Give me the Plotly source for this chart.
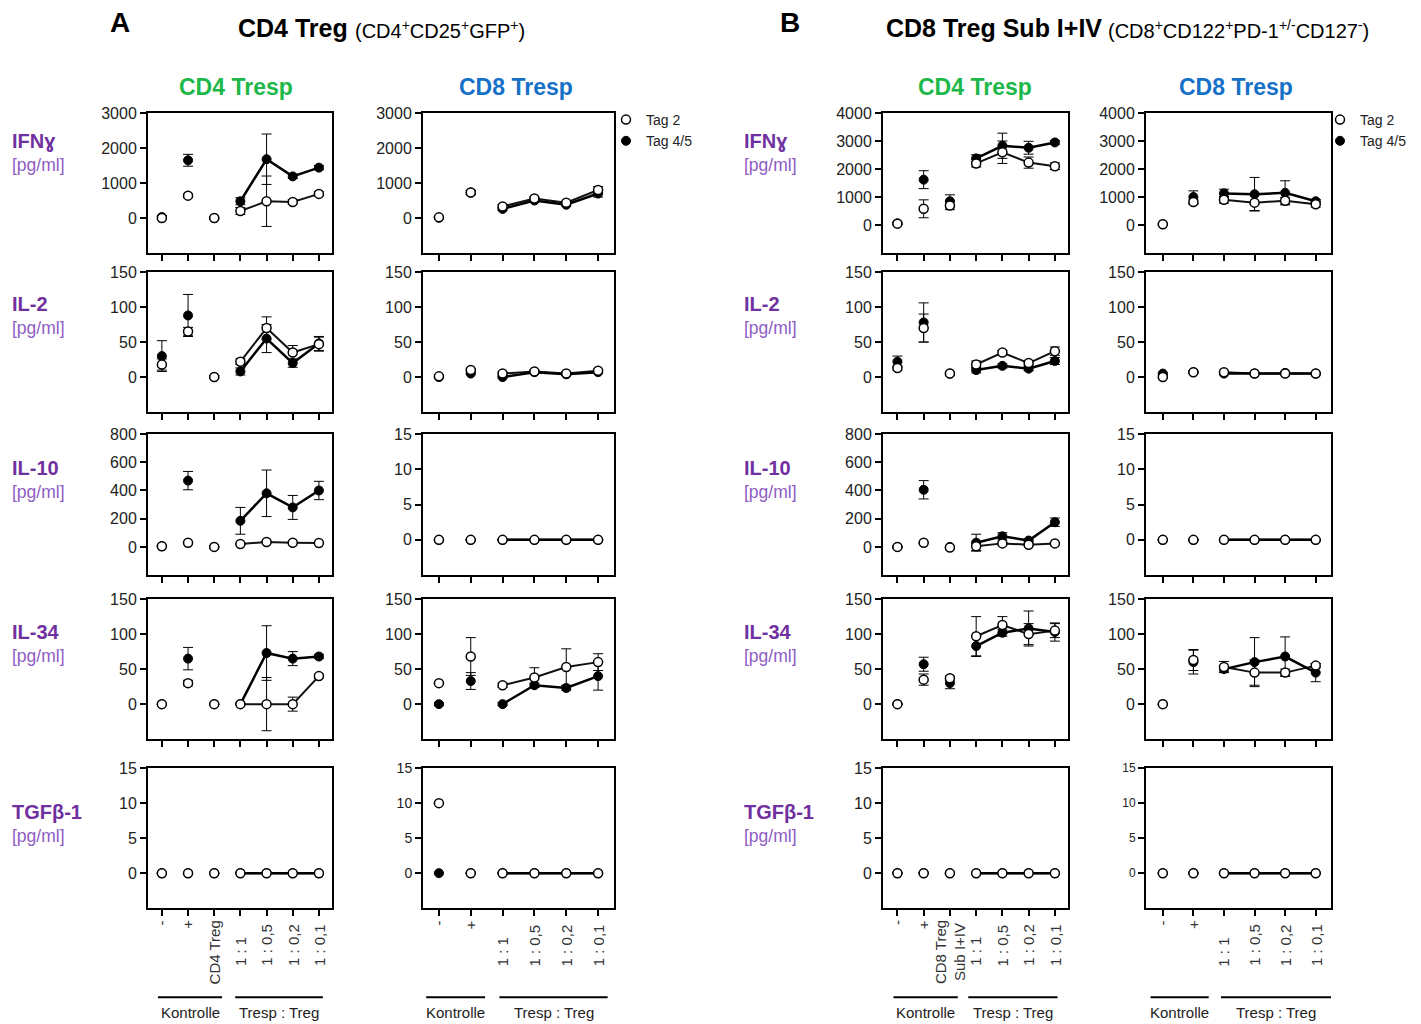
import plotly.graph_objects as go

W, H = 1421, 1024
FONT = "Liberation Sans"

# ---------------- categories ----------------
cats_A_cd4 = ["-", "+", "CD4 Treg", "1 : 1", "1 : 0,5", "1 : 0,2", "1 : 0,1"]
cats_A_cd8 = ["-", "+", "1 : 1", "1 : 0,5", "1 : 0,2", "1 : 0,1"]
cats_B_cd4 = ["-", "+", "CD8 Treg<br>Sub I+IV", "1 : 1", "1 : 0,5", "1 : 0,2", "1 : 0,1"]
cats_B_cd8 = ["-", "+", "1 : 1", "1 : 0,5", "1 : 0,2", "1 : 0,1"]

cytokines = ["IFNɣ", "IL-2", "IL-10", "IL-34", "TGFβ-1"]
unit = "[pg/ml]"
series_names = ["Tag 2", "Tag 4/5"]

# ---------------- data: A, CD4 Tresp ----------------
A4_ifng_t2 = [0, 640, 0, 200, 480, 460, 690]
A4_ifng_t2_err = [40, 50, 30, 100, 720, 60, 60]
A4_ifng_t45 = [30, 1650, 0, 480, 1680, 1190, 1440]
A4_ifng_t45_err = [30, 170, 20, 100, 720, 60, 60]

A4_il2_t2 = [18, 65, 0, 22, 70, 35, 47]
A4_il2_t2_err = [8, 6, 2, 4, 16, 10, 10]
A4_il2_t45 = [30, 88, 0, 8, 55, 20, 48]
A4_il2_t45_err = [22, 30, 2, 5, 20, 6, 10]

A4_il10_t2 = [5, 30, 0, 20, 35, 30, 28]
A4_il10_t2_err = [5, 5, 5, 5, 5, 5, 5]
A4_il10_t45 = [5, 470, 0, 185, 380, 280, 400]
A4_il10_t45_err = [5, 65, 5, 95, 165, 85, 65]

A4_il34_t2 = [0, 30, 0, 0, 0, 0, 40]
A4_il34_t2_err = [0, 4, 0, 0, 38, 10, 3]
A4_il34_t45 = [0, 65, 0, 0, 73, 65, 68]
A4_il34_t45_err = [0, 16, 0, 0, 39, 10, 3]

A4_tgf_t2 = [0, 0, 0, 0, 0, 0, 0]
A4_tgf_t2_err = [0, 0, 0, 0, 0, 0, 0]
A4_tgf_t45 = [0, 0, 0, 0, 0, 0, 0]
A4_tgf_t45_err = [0, 0, 0, 0, 0, 0, 0]

# ---------------- data: A, CD8 Tresp ----------------
A8_ifng_t2 = [20, 730, 330, 560, 440, 800]
A8_ifng_t2_err = [20, 60, 50, 40, 40, 100]
A8_ifng_t45 = [10, 730, 260, 500, 380, 700]
A8_ifng_t45_err = [10, 60, 40, 40, 40, 100]

A8_il2_t2 = [1, 10, 5, 8, 5, 9]
A8_il2_t2_err = [2, 2, 2, 2, 2, 2]
A8_il2_t45 = [0, 5, 0, 7, 4, 7]
A8_il2_t45_err = [1, 1, 1, 1, 1, 1]

A8_il10_t2 = [0, 0, 0, 0, 0, 0]
A8_il10_t2_err = [0, 0, 0, 0, 0, 0]
A8_il10_t45 = [0, 0, 0, 0, 0, 0]
A8_il10_t45_err = [0, 0, 0, 0, 0, 0]

A8_il34_t2 = [30, 68, 27, 38, 53, 60]
A8_il34_t2_err = [2, 27, 3, 14, 26, 12]
A8_il34_t45 = [0, 33, 0, 27, 23, 40]
A8_il34_t45_err = [2, 12, 2, 3, 3, 20]

A8_tgf_t2 = [10, 0, 0, 0, 0, 0]
A8_tgf_t2_err = [0, 0, 0, 0, 0, 0]
A8_tgf_t45 = [0, 0, 0, 0, 0, 0]
A8_tgf_t45_err = [0, 0, 0, 0, 0, 0]

# ---------------- data: B, CD4 Tresp ----------------
B4_ifng_t2 = [50, 580, 700, 2200, 2600, 2230, 2100]
B4_ifng_t2_err = [30, 320, 150, 130, 400, 200, 120]
B4_ifng_t45 = [60, 1620, 850, 2380, 2830, 2760, 2950]
B4_ifng_t45_err = [50, 320, 230, 130, 450, 230, 70]

B4_il2_t2 = [13, 70, 5, 18, 35, 20, 37]
B4_il2_t2_err = [3, 20, 2, 5, 3, 3, 6]
B4_il2_t45 = [22, 78, 5, 10, 16, 12, 23]
B4_il2_t45_err = [8, 28, 2, 4, 3, 3, 5]

B4_il10_t2 = [0, 30, -5, 5, 25, 15, 25]
B4_il10_t2_err = [5, 5, 5, 30, 5, 5, 5]
B4_il10_t45 = [0, 405, 0, 30, 75, 45, 175]
B4_il10_t45_err = [5, 65, 5, 60, 25, 10, 30]

B4_il34_t2 = [0, 35, 37, 97, 113, 100, 105]
B4_il34_t2_err = [0, 8, 3, 28, 12, 15, 10]
B4_il34_t45 = [0, 57, 30, 83, 102, 108, 103]
B4_il34_t45_err = [0, 10, 8, 15, 5, 25, 13]

B4_tgf_t2 = [0, 0, 0, 0, 0, 0, 0]
B4_tgf_t2_err = [0, 0, 0, 0, 0, 0, 0]
B4_tgf_t45 = [0, 0, 0, 0, 0, 0, 0]
B4_tgf_t45_err = [0, 0, 0, 0, 0, 0, 0]

# ---------------- data: B, CD8 Tresp ----------------
B8_ifng_t2 = [30, 820, 900, 800, 870, 740]
B8_ifng_t2_err = [30, 80, 120, 280, 120, 100]
B8_ifng_t45 = [30, 1000, 1130, 1100, 1150, 850]
B8_ifng_t45_err = [30, 220, 150, 600, 430, 60]

B8_il2_t2 = [0, 7, 7, 5, 5, 5]
B8_il2_t2_err = [2, 2, 1, 1, 1, 1]
B8_il2_t45 = [5, 7, 5, 5, 6, 5]
B8_il2_t45_err = [1, 1, 1, 1, 1, 1]

B8_il10_t2 = [0, 0, 0, 0, 0, 0]
B8_il10_t2_err = [0, 0, 0, 0, 0, 0]
B8_il10_t45 = [0, 0, 0, 0, 0, 0]
B8_il10_t45_err = [0, 0, 0, 0, 0, 0]

B8_il34_t2 = [0, 63, 53, 45, 45, 55]
B8_il34_t2_err = [0, 15, 8, 18, 5, 3]
B8_il34_t45 = [0, 60, 50, 60, 68, 45]
B8_il34_t45_err = [0, 17, 4, 35, 28, 13]

B8_tgf_t2 = [0, 0, 0, 0, 0, 0]
B8_tgf_t2_err = [0, 0, 0, 0, 0, 0]
B8_tgf_t45 = [0, 0, 0, 0, 0, 0]
B8_tgf_t45_err = [0, 0, 0, 0, 0, 0]

# ---------------- y-axis tick values ----------------
ticks_ifng3 = [0, 1000, 2000, 3000]
ticks_ifng4 = [0, 1000, 2000, 3000, 4000]
ticks_150 = [0, 50, 100, 150]
ticks_800 = [0, 200, 400, 600, 800]
ticks_15 = [0, 5, 10, 15]

# ---------------- assemble panels ----------------
columns = [
    dict(cats=cats_A_cd4, panels=[
        (A4_ifng_t2, A4_ifng_t2_err, A4_ifng_t45, A4_ifng_t45_err, [-1000, 3000], ticks_ifng3),
        (A4_il2_t2, A4_il2_t2_err, A4_il2_t45, A4_il2_t45_err, [-50, 150], ticks_150),
        (A4_il10_t2, A4_il10_t2_err, A4_il10_t45, A4_il10_t45_err, [-200, 800], ticks_800),
        (A4_il34_t2, A4_il34_t2_err, A4_il34_t45, A4_il34_t45_err, [-50, 150], ticks_150),
        (A4_tgf_t2, A4_tgf_t2_err, A4_tgf_t45, A4_tgf_t45_err, [-5, 15], ticks_15),
    ]),
    dict(cats=cats_A_cd8, panels=[
        (A8_ifng_t2, A8_ifng_t2_err, A8_ifng_t45, A8_ifng_t45_err, [-1000, 3000], ticks_ifng3),
        (A8_il2_t2, A8_il2_t2_err, A8_il2_t45, A8_il2_t45_err, [-50, 150], ticks_150),
        (A8_il10_t2, A8_il10_t2_err, A8_il10_t45, A8_il10_t45_err, [-5, 15], ticks_15),
        (A8_il34_t2, A8_il34_t2_err, A8_il34_t45, A8_il34_t45_err, [-50, 150], ticks_150),
        (A8_tgf_t2, A8_tgf_t2_err, A8_tgf_t45, A8_tgf_t45_err, [-5, 15], ticks_15),
    ]),
    dict(cats=cats_B_cd4, panels=[
        (B4_ifng_t2, B4_ifng_t2_err, B4_ifng_t45, B4_ifng_t45_err, [-1000, 4000], ticks_ifng4),
        (B4_il2_t2, B4_il2_t2_err, B4_il2_t45, B4_il2_t45_err, [-50, 150], ticks_150),
        (B4_il10_t2, B4_il10_t2_err, B4_il10_t45, B4_il10_t45_err, [-200, 800], ticks_800),
        (B4_il34_t2, B4_il34_t2_err, B4_il34_t45, B4_il34_t45_err, [-50, 150], ticks_150),
        (B4_tgf_t2, B4_tgf_t2_err, B4_tgf_t45, B4_tgf_t45_err, [-5, 15], ticks_15),
    ]),
    dict(cats=cats_B_cd8, panels=[
        (B8_ifng_t2, B8_ifng_t2_err, B8_ifng_t45, B8_ifng_t45_err, [-1000, 4000], ticks_ifng4),
        (B8_il2_t2, B8_il2_t2_err, B8_il2_t45, B8_il2_t45_err, [-50, 150], ticks_150),
        (B8_il10_t2, B8_il10_t2_err, B8_il10_t45, B8_il10_t45_err, [-5, 15], ticks_15),
        (B8_il34_t2, B8_il34_t2_err, B8_il34_t45, B8_il34_t45_err, [-50, 150], ticks_150),
        (B8_tgf_t2, B8_tgf_t2_err, B8_tgf_t45, B8_tgf_t45_err, [-5, 15], ticks_15),
    ]),
]

# ---------------- layout geometry (pixels) ----------------
col_px = [(148, 332), (423, 614), (883, 1068), (1146, 1331)]
col_xrange = [[0.47, 7.5], [0.5, 6.5], [0.45, 7.5], [0.45, 6.5]]
row_px = [(113, 253), (272, 412), (434, 575), (599, 739), (768, 908)]


def fx(p):
    return p / W


def fy(p):
    q = (p - 8) / 0.992
    return 1 - q / H


fig = go.Figure()
layout = dict(
    width=W, height=H, margin=dict(l=0, r=0, t=0, b=0),
    paper_bgcolor="white", plot_bgcolor="white",
    font=dict(family=FONT, color="#222"),
    annotations=[], shapes=[],
)

err_style = dict(type="data", color="black", thickness=1, width=5, visible=True)

for c, col in enumerate(columns):
    cats = col["cats"]
    n = len(cats)
    xs = list(range(1, n + 1))
    r0 = cats.index("1 : 1")
    for r, (t2, t2e, t45, t45e, yr, tv) in enumerate(col["panels"]):
        k = r * 4 + c + 1
        xa = "x" if k == 1 else f"x{k}"
        ya = "y" if k == 1 else f"y{k}"
        xkey = "xaxis" if k == 1 else f"xaxis{k}"
        ykey = "yaxis" if k == 1 else f"yaxis{k}"
        layout[xkey] = dict(
            domain=[fx(col_px[c][0]), fx(col_px[c][1])], anchor=ya,
            range=col_xrange[c], tickvals=xs, showticklabels=False,
            ticks="outside", ticklen=6, tickwidth=1.5, tickcolor="black",
            showline=True, linecolor="black", linewidth=2, mirror=True,
            showgrid=False, zeroline=False, fixedrange=True,
        )
        tsize = 16
        if r == 4 and c == 3:
            tsize = 12
        elif r == 4 and c == 1:
            tsize = 14
        layout[ykey] = dict(
            domain=[fy(row_px[r][1]), fy(row_px[r][0])], anchor=xa,
            range=yr, tickvals=tv, ticks="outside", ticklen=6, tickwidth=1.5,
            tickcolor="black", showline=True, linecolor="black", linewidth=2,
            mirror=True, showgrid=False, zeroline=False, fixedrange=True,
            tickfont=dict(size=tsize, color="#222", family=FONT),
        )
        # connecting lines for the Tresp:Treg ratios
        fig.add_trace(go.Scatter(
            x=xs[r0:], y=t2[r0:], mode="lines", xaxis=xa, yaxis=ya,
            line=dict(color="#111", width=2), showlegend=False, hoverinfo="skip"))
        fig.add_trace(go.Scatter(
            x=xs[r0:], y=t45[r0:], mode="lines", xaxis=xa, yaxis=ya,
            line=dict(color="black", width=2.5), showlegend=False, hoverinfo="skip"))
        leg = None
        if r == 0 and c == 1:
            leg = "legend"
        if r == 0 and c == 3:
            leg = "legend2"
        fig.add_trace(go.Scatter(
            x=xs, y=t45, mode="markers", xaxis=xa, yaxis=ya, name=series_names[1],
            error_y=dict(array=t45e, **err_style),
            marker=dict(symbol="circle", size=9, color="black",
                        line=dict(color="black", width=1)),
            showlegend=leg is not None, legend=leg or "legend", legendrank=2))
        fig.add_trace(go.Scatter(
            x=xs, y=t2, mode="markers", xaxis=xa, yaxis=ya, name=series_names[0],
            error_y=dict(array=t2e, **err_style),
            marker=dict(symbol="circle", size=9, color="white",
                        line=dict(color="black", width=1.5)),
            showlegend=leg is not None, legend=leg or "legend", legendrank=1))

    # rotated category labels under the x-axis
    xa = f"x{16 + c + 1}"
    for i, lab in enumerate(cats):
        is_ratio = lab.startswith("1 :")
        layout["annotations"].append(dict(
            x=xs[i], y=fy(968 if is_ratio else 918), xref=xa, yref="paper",
            text=lab, textangle=-90, showarrow=False,
            xanchor="center", yanchor="bottom" if is_ratio else "top",
            font=dict(size=15, color="#333", family=FONT)))

# group brackets under the category labels
brackets = [
    [(0.85, 3.3, "Kontrolle"), (3.8, 7.15, "Tresp : Treg")],
    [(0.6, 2.45, "Kontrolle"), (2.9, 6.3, "Tresp : Treg")],
    [(0.85, 3.3, "Kontrolle"), (3.7, 7.1, "Tresp : Treg")],
    [(0.6, 2.5, "Kontrolle"), (2.9, 6.5, "Tresp : Treg")],
]
for c, grp in enumerate(brackets):
    xa = f"x{16 + c + 1}"
    for x0, x1, lab in grp:
        layout["shapes"].append(dict(
            type="line", xref=xa, yref="paper", x0=x0, x1=x1,
            y0=fy(997), y1=fy(997), line=dict(color="black", width=2)))
        layout["annotations"].append(dict(
            x=(x0 + x1) / 2, y=fy(1012), xref=xa, yref="paper", text=lab,
            showarrow=False, xanchor="center", yanchor="middle",
            font=dict(size=15, color="#222", family=FONT)))

# row labels (cytokine + unit) for both blocks
row_label_y = [141, 304, 468, 632, 812]
for lx in (10, 742):
    for r, cyt in enumerate(cytokines):
        layout["annotations"].append(dict(
            x=fx(lx), y=fy(row_label_y[r]), xref="paper", yref="paper",
            text=f"<b>{cyt}</b>", showarrow=False, xanchor="left", yanchor="middle",
            font=dict(size=20, color="#7030A0", family=FONT)))
        layout["annotations"].append(dict(
            x=fx(lx), y=fy(row_label_y[r] + 24), xref="paper", yref="paper",
            text=unit, showarrow=False, xanchor="left", yanchor="middle",
            font=dict(size=17.5, color="#8E5CC4", family=FONT)))

# column headers
for cx, txt, colr in [(236, "CD4 Tresp", "#1DB84A"), (516, "CD8 Tresp", "#1570C8"),
                      (975, "CD4 Tresp", "#1DB84A"), (1236, "CD8 Tresp", "#1570C8")]:
    layout["annotations"].append(dict(
        x=fx(cx), y=fy(87), xref="paper", yref="paper", text=f"<b>{txt}</b>",
        showarrow=False, xanchor="center", yanchor="middle",
        font=dict(size=23, color=colr, family=FONT)))

# block titles
titles = [
    (120, "A", 236, "CD4 Treg", 353, "(CD4<sup>+</sup>CD25<sup>+</sup>GFP<sup>+</sup>)"),
    (790, "B", 884, "CD8 Treg Sub I+IV", 1106,
     "(CD8<sup>+</sup>CD122<sup>+</sup>PD-1<sup>+/-</sup>CD127<sup>-</sup>)"),
]
for lx, letter, tx, ttl, px_, sub in titles:
    layout["annotations"].append(dict(
        x=fx(lx), y=fy(22), xref="paper", yref="paper", text=f"<b>{letter}</b>",
        showarrow=False, xanchor="center", yanchor="middle",
        font=dict(size=28, color="black", family=FONT)))
    layout["annotations"].append(dict(
        x=fx(tx), y=fy(28), xref="paper", yref="paper", text=f"<b>{ttl}</b>",
        showarrow=False, xanchor="left", yanchor="middle",
        font=dict(size=25, color="black", family=FONT)))
    layout["annotations"].append(dict(
        x=fx(px_), y=fy(29), xref="paper", yref="paper", text=sub,
        showarrow=False, xanchor="left", yanchor="middle",
        font=dict(size=20, color="black", family=FONT)))

legend_common = dict(
    xanchor="left", yanchor="top", bgcolor="rgba(0,0,0,0)",
    font=dict(size=14, color="#222", family=FONT), itemwidth=30,
    tracegroupgap=0, traceorder="normal",
)
layout["legend"] = dict(x=fx(606), y=fy(104), **legend_common)
layout["legend2"] = dict(x=fx(1320), y=fy(104), **legend_common)
layout["showlegend"] = True

fig.update_layout(**layout)

# pin the graph div to the top-left corner of the page (no body margin)
pin = ("document.body.style.margin='0px';"
       "var g=document.getElementById('{plot_id}');"
       "g.style.position='absolute';g.style.left='0px';g.style.top='0px';")
fig.write_html("out.html", post_script=pin, config={"displayModeBar": False})
